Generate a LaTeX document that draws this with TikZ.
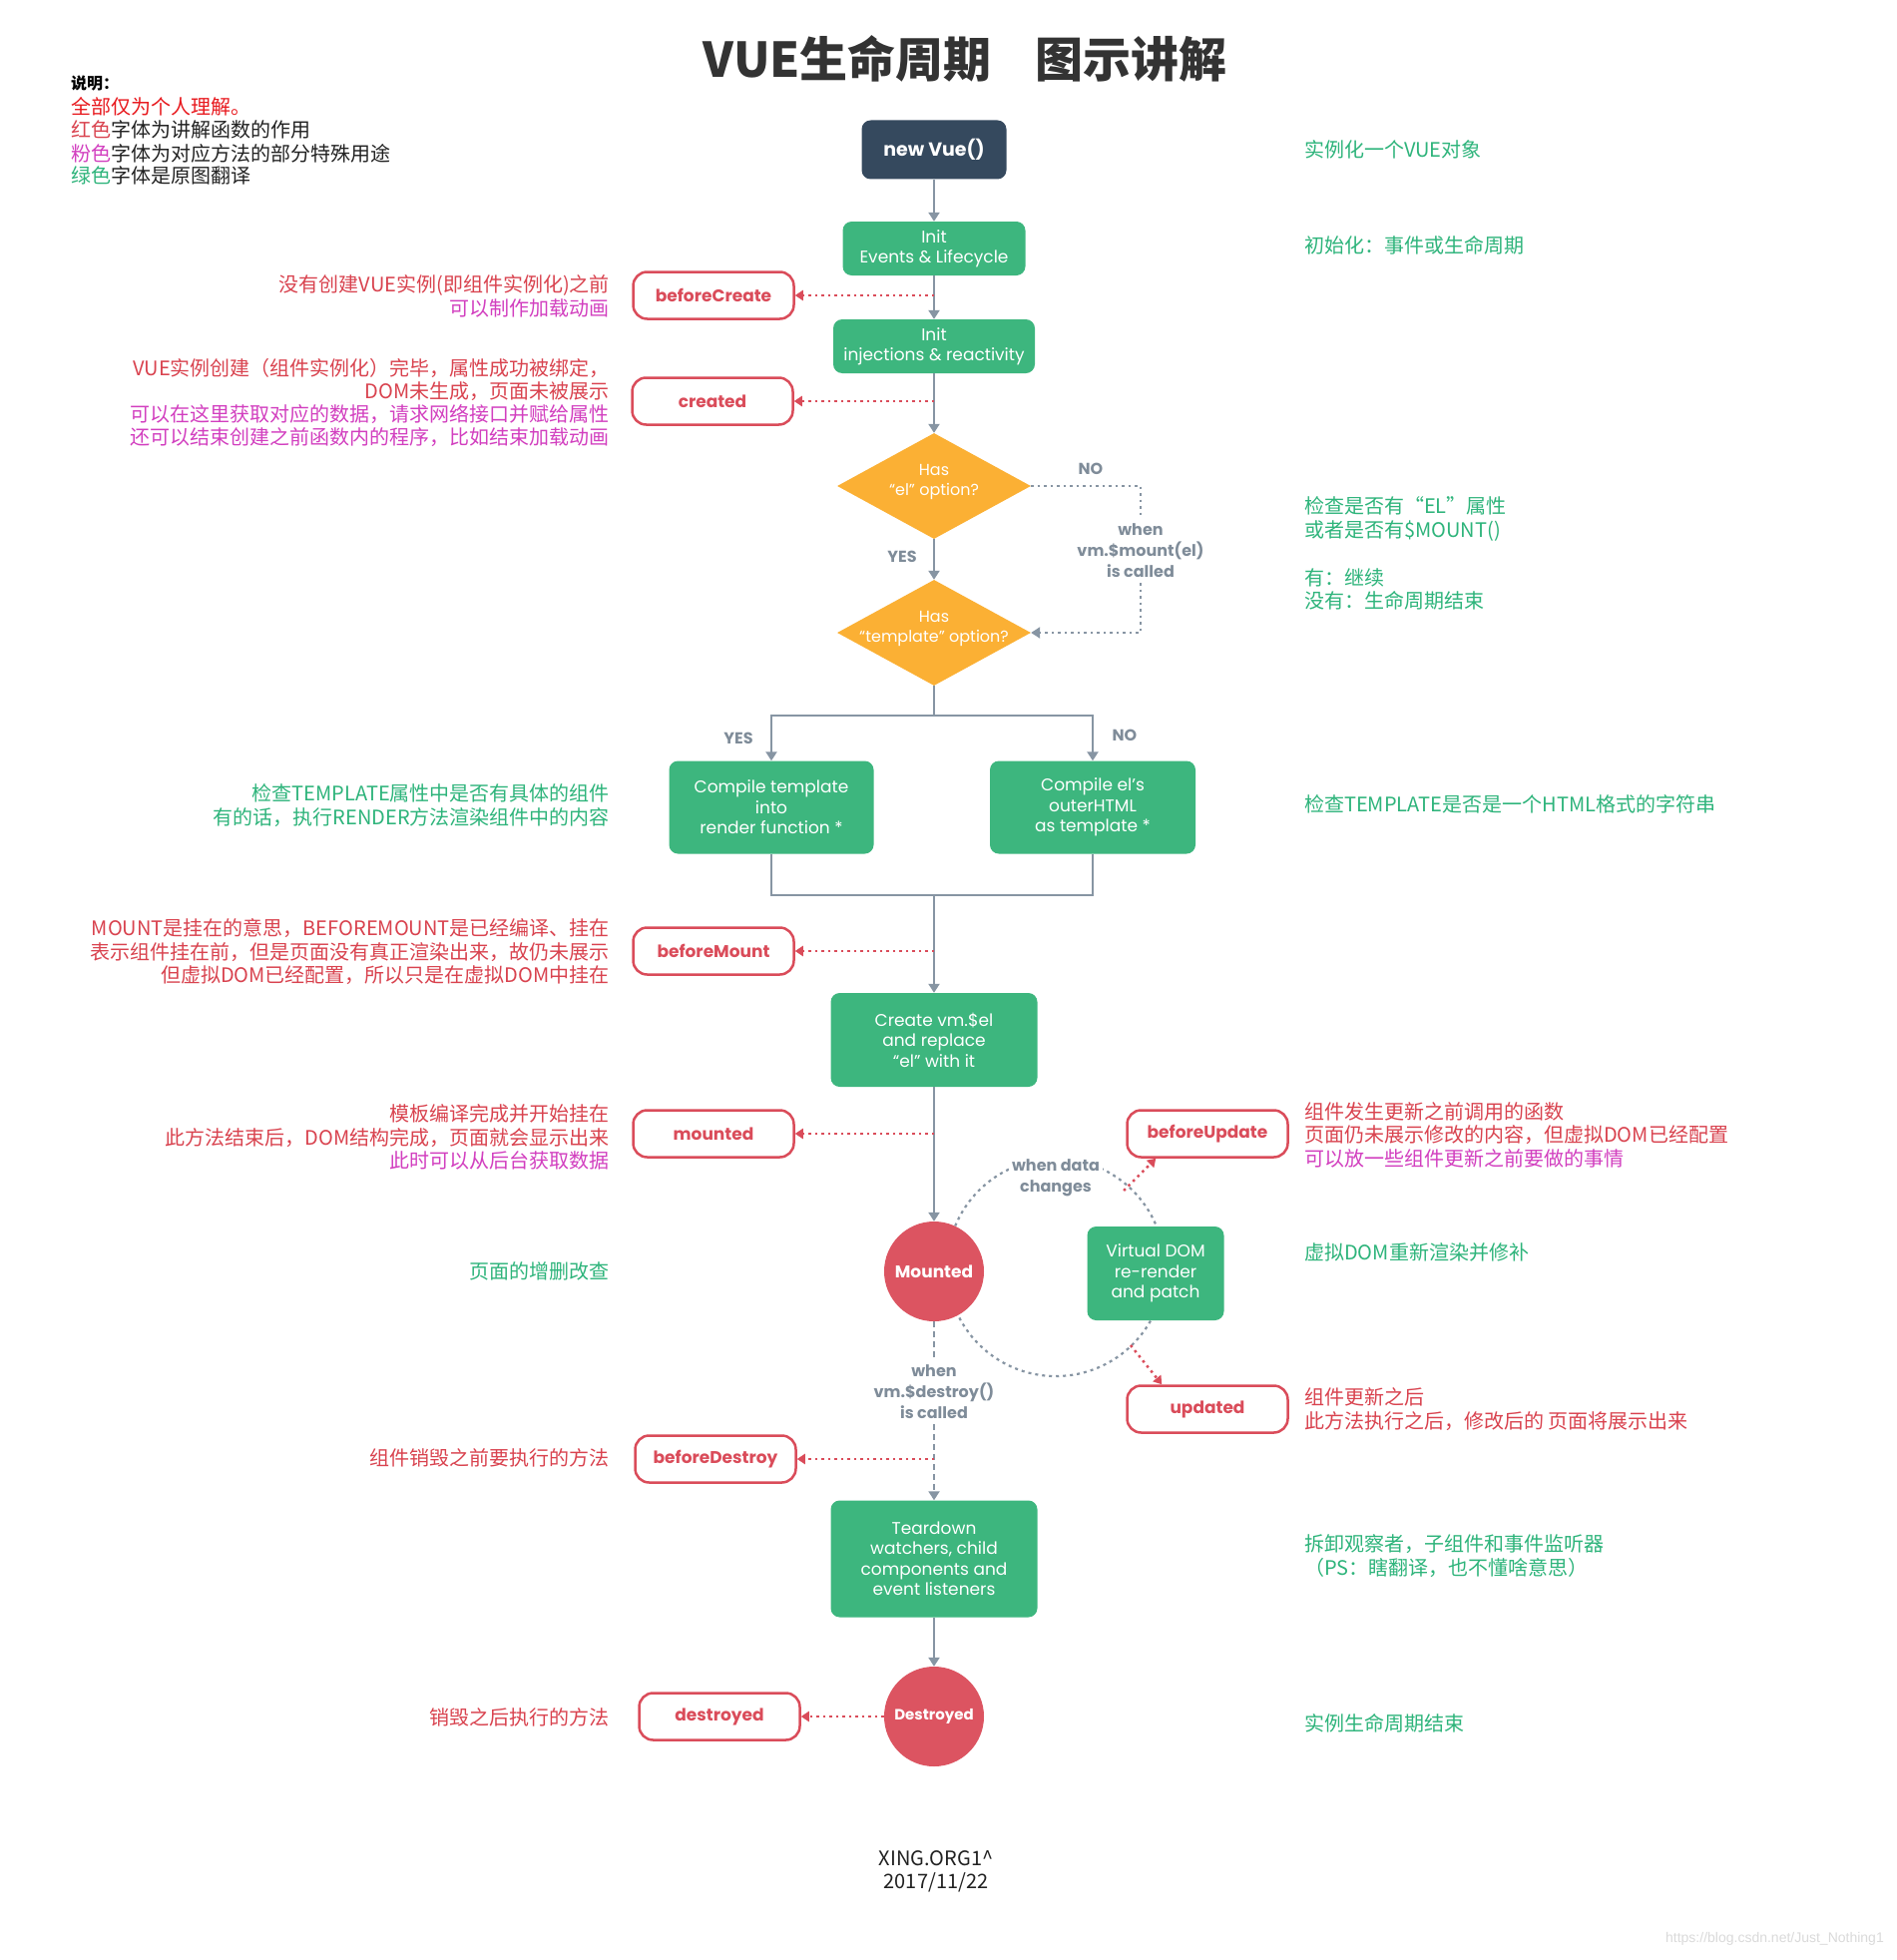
\documentclass[tikz,border=0pt]{standalone}
\usepackage{fontspec}
\setmainfont{Noto Sans CJK SC}
\newfontfamily\pop{Poppins}
\newfontfamily\wmfont{Liberation Sans}
\usetikzlibrary{arrows.meta,shapes.geometric,calc}
\definecolor{vgreen}{HTML}{3DB67E}
\definecolor{vnavy}{HTML}{35495E}
\definecolor{vorange}{HTML}{FBB034}
\definecolor{vred}{HTML}{DC5461}
\definecolor{hookred}{HTML}{DA4C5A}
\definecolor{linegray}{HTML}{8795A3}
\definecolor{lblgray}{HTML}{7F8C99}
\definecolor{notered}{HTML}{D9434F}
\definecolor{brightred}{HTML}{E8191E}
\definecolor{notepink}{HTML}{D23FBF}
\definecolor{notegreen}{HTML}{2EB47B}
\definecolor{titlegray}{HTML}{333333}
\definecolor{inkblack}{HTML}{222222}
\definecolor{wmgray}{HTML}{DADADA}
\newcommand\fsz[2]{\fontsize{#1}{#2}\selectfont}
\begin{document}
\begin{tikzpicture}[x=1pt,y=-1pt,
  gbox/.style={fill=vgreen, rounded corners=9pt, text=white, font=\pop\fsz{17}{20.5}, align=center, inner sep=0pt},
  hook/.style={draw=hookred, line width=2.5pt, fill=white, rounded corners=14pt, minimum width=161, minimum height=47, text=hookred, font=\pop\bfseries\fsz{17}{20}, inner sep=0pt},
  decision/.style={diamond, fill=vorange, minimum width=194, minimum height=106, inner sep=0pt},
  dtext/.style={text=white, font=\pop\fsz{16}{20}, align=center},
  redcirc/.style={circle, fill=vred, minimum size=100, inner sep=0pt, text=white, font=\pop\bfseries\fsz{17}{20}},
  glabel/.style={text=lblgray, font=\pop\bfseries\fsz{16}{21}, align=center, inner sep=5pt},
  gline/.style={draw=linegray, line width=2.5pt},
  garrow/.style={gline, -{Triangle[width=11pt,length=9pt]}},
  gdot/.style={draw=linegray, line width=2.5pt, dash pattern=on 2.5pt off 4pt},
  gdash/.style={draw=linegray, line width=2pt, dash pattern=on 6pt off 4pt},
  cyc/.style={draw=linegray, line width=2.2pt, dash pattern=on 3pt off 4pt},
  rdot/.style={draw=hookred, line width=2.5pt, dash pattern=on 2.5pt off 4pt, -{Triangle[width=10pt,length=8pt]}},
  noteR/.style={anchor=base east, font=\fsz{20}{24}, inner sep=0pt},
  noteL/.style={anchor=base west, font=\fsz{20}{24}, inner sep=0pt},
]
\fill[white] (0,0) rectangle (1900,1964);
\useasboundingbox (0,0) rectangle (1900,1964);

% update cycle (drawn first, behind everything)
\draw[cyc] (1058,1270) circle[radius=109];

% title
\node[font=\fsz{48}{56}\bfseries, text=titlegray] (title) at (967,59) {VUE生命周期\hspace{0.9em}图示讲解};

% legend
\node[noteL, font=\fsz{16}{20}\bfseries, text=black] (lg0) at (71,90) {说明：};
\node[noteL, text=brightred] (lg1) at (71,115) {全部仅为个人理解。};
\node[noteL, text=inkblack] (lg2) at (71,138) {\textcolor{notered}{红色}字体为讲解函数的作用};
\node[noteL, text=inkblack] (lg3) at (71,162) {\textcolor{notepink}{粉色}字体为对应方法的部分特殊用途};
\node[noteL, text=inkblack] (lg4) at (71,184) {\textcolor{notegreen}{绿色}字体是原图翻译};

% main flow nodes
\node[gbox, fill=vnavy, font=\pop\bfseries\fsz{19}{22}, minimum width=145, minimum height=59] (newvue) at (936,150) {new Vue()};
\node[gbox, minimum width=183, minimum height=54] (init1) at (936,249) {Init\\Events \& Lifecycle};
\node[gbox, minimum width=202, minimum height=54] (init2) at (936,347) {Init\\injections \& reactivity};
\node[decision] (d1) at (936,487) {};
\node[dtext] (d1t) at (936,483) {Has\\“el” option?};
\node[decision] (d2) at (936,634) {};
\node[dtext] (d2t) at (936,630) {Has\\“template” option?};
\node[gbox, minimum width=205, minimum height=93] (ct) at (773,809) {Compile template\\into\\render function *};
\node[gbox, minimum width=206, minimum height=93] (ce) at (1095,809) {Compile el’s\\outerHTML\\as template *};
\node[gbox, minimum width=207, minimum height=94] (createel) at (936,1042) {Create vm.\$el\\and replace\\“el” with it};
\node[redcirc] (mountedc) at (936,1274) {Mounted};
\node[gbox, minimum width=137, minimum height=94] (vdom) at (1158,1276) {Virtual DOM\\re-render\\and patch};
\node[gbox, minimum width=207, minimum height=117] (teardown) at (936,1562) {Teardown\\watchers, child\\components and\\event listeners};
\node[redcirc, font=\pop\bfseries\fsz{15}{18}] (destroyedc) at (936,1720) {Destroyed};

% hooks
\node[hook] (bcreate) at (715,296) {beforeCreate};
\node[hook] (created) at (714,402) {created};
\node[hook] (bmount) at (715,953) {beforeMount};
\node[hook] (mounted) at (715,1136) {mounted};
\node[hook] (bupdate) at (1210,1136) {beforeUpdate};
\node[hook] (updated) at (1210,1412) {updated};
\node[hook] (bdestroy) at (717,1462) {beforeDestroy};
\node[hook] (destroyed) at (721,1720) {destroyed};

% grey labels
\node[glabel] (nolbl1) at (1093,470) {NO};
\node[glabel] (yeslbl1) at (904,558) {YES};
\node[glabel] (mountlbl) at (1143,552) {when\\vm.\$mount(el)\\is called};
\node[glabel] (yeslbl2) at (740,740) {YES};
\node[glabel] (nolbl2) at (1127,737) {NO};
\node[glabel, fill=white, inner sep=3pt] (datalbl) at (1058,1180) {when data\\changes};
\node[glabel] (destroylbl) at (936,1395) {when\\vm.\$destroy()\\is called};

% coordinates
\coordinate (split) at (936,717);
\coordinate (merge) at (936,897);
\coordinate (cyc1) at (1126,1193);
\coordinate (cyc2) at (1133,1348);

% main connectors
\draw[garrow] (newvue) -- (init1);
\draw[garrow] (init1) -- (init2);
\draw[garrow] (init2) -- (d1);
\draw[garrow] (d1) -- (d2);
\draw[gline] (d2.south) -- (split);
\draw[garrow] (split) -| (ct);
\draw[garrow] (split) -| (ce);
\draw[gline] (ct) |- (merge);
\draw[gline] (ce) |- (merge);
\draw[garrow] (merge) -- (createel);
\draw[garrow] (createel) -- (mountedc);
\draw[garrow] (teardown) -- (destroyedc);

% no-el branch
\draw[gdot] (d1.east) -| (mountlbl.north);
\draw[gdot, -{Triangle[width=11pt,length=9pt]}] (mountlbl.south) |- (d2.east);

% destroy branch
\draw[gdash] (mountedc) -- (destroylbl);
\draw[gdash, -{Triangle[width=11pt,length=9pt]}] (destroylbl) -- (teardown);

% hook connectors
\draw[rdot] (init1.south |- bcreate) -- (bcreate);
\draw[rdot] (init2.south |- created) -- (created);
\draw[rdot] (merge |- bmount) -- (bmount);
\draw[rdot] (createel.south |- mounted) -- (mounted);
\draw[rdot] (cyc1) -- ([xshift=30pt]bupdate.south west);
\draw[rdot] (cyc2) -- ([xshift=36pt]updated.north west);
\draw[rdot] (destroylbl.south |- bdestroy) -- (bdestroy);
\draw[rdot] (destroyedc) -- (destroyed);

% left notes
\node[noteR, text=notered] (n1a) at (611,292.5) {没有创建VUE实例(即组件实例化)之前};
\node[noteR, text=notepink] (n1b) at (611,316.5) {可以制作加载动画};
\node[noteR, text=notered] (n2a) at (611,376.5) {VUE实例创建（组件实例化）完毕，属性成功被绑定，};
\node[noteR, text=notered] (n2b) at (611,399.5) {DOM未生成，页面未被展示};
\node[noteR, text=notepink] (n2c) at (611,422.5) {可以在这里获取对应的数据，请求网络接口并赋给属性};
\node[noteR, text=notepink] (n2d) at (611,445.5) {还可以结束创建之前函数内的程序，比如结束加载动画};
\node[noteR, text=notegreen] (n3a) at (611,802.5) {检查TEMPLATE属性中是否有具体的组件};
\node[noteR, text=notegreen] (n3b) at (611,826.5) {有的话，执行RENDER方法渲染组件中的内容};
\node[noteR, text=notered] (n4a) at (611,937.5) {MOUNT是挂在的意思，BEFOREMOUNT是已经编译、挂在};
\node[noteR, text=notered] (n4b) at (611,961) {表示组件挂在前，但是页面没有真正渲染出来，故仍未展示};
\node[noteR, text=notered] (n4c) at (611,984) {但虚拟DOM已经配置，所以只是在虚拟DOM中挂在};
\node[noteR, text=notered] (n5a) at (611,1123.5) {模板编译完成并开始挂在};
\node[noteR, text=notered] (n5b) at (611,1147) {此方法结束后，DOM结构完成，页面就会显示出来};
\node[noteR, text=notepink] (n5c) at (611,1170) {此时可以从后台获取数据};
\node[noteR, text=notegreen] (n6) at (611,1281.5) {页面的增删改查};
\node[noteR, text=notered] (n7) at (611,1468.5) {组件销毁之前要执行的方法};
\node[noteR, text=notered] (n8) at (611,1728.5) {销毁之后执行的方法};

% right notes
\node[noteL, text=notegreen] (r1) at (1307,157.5) {实例化一个VUE对象};
\node[noteL, text=notegreen] (r2) at (1307,253.5) {初始化：事件或生命周期};
\node[noteL, text=notegreen] (r3a) at (1307,514.5) {检查是否有“EL”属性};
\node[noteL, text=notegreen] (r3b) at (1307,538.5) {或者是否有\$MOUNT()};
\node[noteL, text=notegreen] (r3c) at (1307,586.5) {有：继续};
\node[noteL, text=notegreen] (r3d) at (1307,609.5) {没有：生命周期结束};
\node[noteL, text=notegreen] (r4) at (1307,813.5) {检查TEMPLATE是否是一个HTML格式的字符串};
\node[noteL, text=notered] (r5a) at (1307,1121.5) {组件发生更新之前调用的函数};
\node[noteL, text=notered] (r5b) at (1307,1144.5) {页面仍未展示修改的内容，但虚拟DOM已经配置};
\node[noteL, text=notepink] (r5c) at (1307,1168) {可以放一些组件更新之前要做的事情};
\node[noteL, text=notegreen] (r6) at (1307,1262.5) {虚拟DOM重新渲染并修补};
\node[noteL, text=notered] (r7a) at (1307,1407.5) {组件更新之后};
\node[noteL, text=notered] (r7b) at (1307,1431.5) {此方法执行之后，修改后的 页面将展示出来};
\node[noteL, text=notegreen] (r8a) at (1307,1554.5) {拆卸观察者，子组件和事件监听器};
\node[noteL, text=notegreen] (r8b) at (1307,1578.5) {（PS：瞎翻译，也不懂啥意思）};
\node[noteL, text=notegreen] (r9) at (1307,1734.5) {实例生命周期结束};

% footer
\node[font=\fsz{20}{24}, text=inkblack] (foot1) at (938,1862) {XING.ORG1\textasciicircum};
\node[font=\fsz{20}{24}, text=inkblack] (foot2) at (938,1886) {2017/11/22};
\node[anchor=base east, font=\wmfont\fsz{14}{16}, text=wmgray, inner sep=0pt] (wm) at (1888,1946) {https://blog.csdn.net/Just\_Nothing1};
\end{tikzpicture}
\end{document}
